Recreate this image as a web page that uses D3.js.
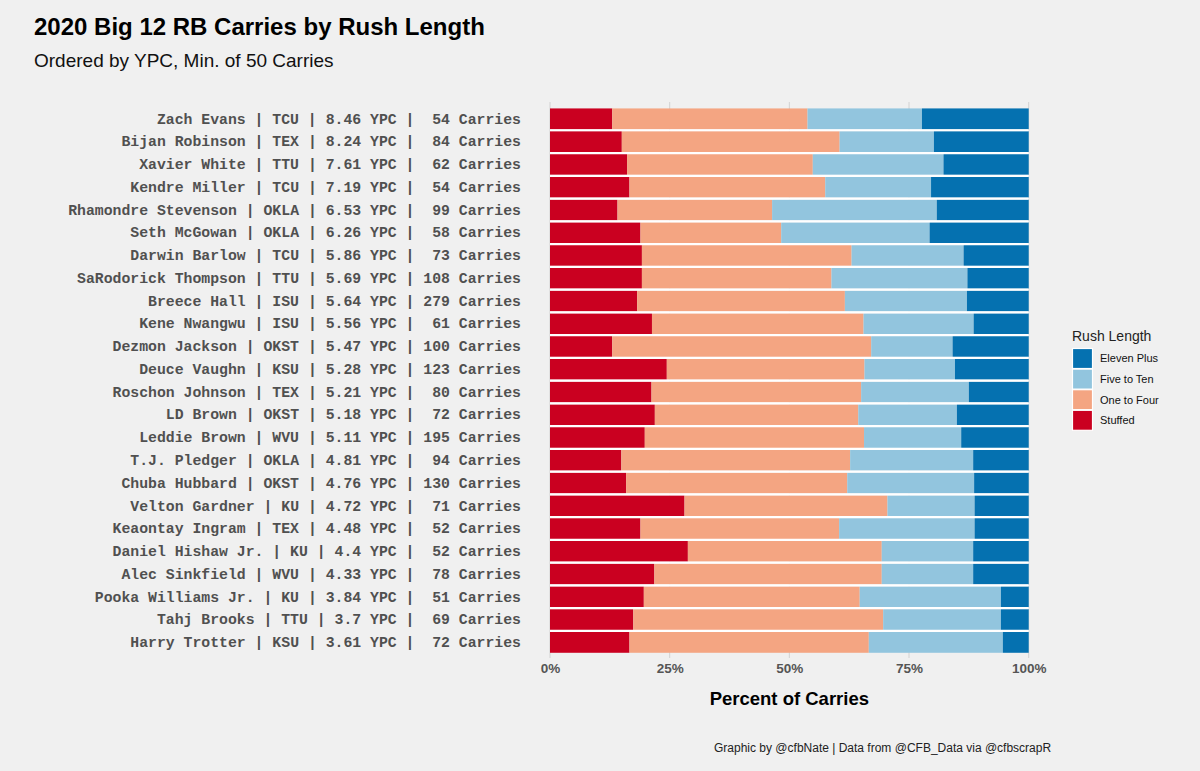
<!DOCTYPE html>
<html>
<head>
<meta charset="utf-8">
<script src="https://cdn.jsdelivr.net/npm/d3@7"></script>
<style>
  html, body { margin: 0; padding: 0; background: #f0f0f0; }
  svg { display: block; font-family: "Liberation Sans", Arial, sans-serif; }
  .ylab { font-family: "Liberation Mono", "Courier New", monospace; white-space: pre; }
</style>
</head>
<body>
<div id="chart"></div>
<script>
// Players, ordered by YPC
const players = ["Zach Evans", "Bijan Robinson", "Xavier White", "Kendre Miller", "Rhamondre Stevenson",
  "Seth McGowan", "Darwin Barlow", "SaRodorick Thompson", "Breece Hall", "Kene Nwangwu",
  "Dezmon Jackson", "Deuce Vaughn", "Roschon Johnson", "LD Brown", "Leddie Brown",
  "T.J. Pledger", "Chuba Hubbard", "Velton Gardner", "Keaontay Ingram", "Daniel Hishaw Jr.",
  "Alec Sinkfield", "Pooka Williams Jr.", "Tahj Brooks", "Harry Trotter"];
const teams = ["TCU", "TEX", "TTU", "TCU", "OKLA", "OKLA", "TCU", "TTU", "ISU", "ISU",
  "OKST", "KSU", "TEX", "OKST", "WVU", "OKLA", "OKST", "KU", "TEX", "KU",
  "WVU", "KU", "TTU", "KSU"];
const ypc = ["8.46", "8.24", "7.61", "7.19", "6.53", "6.26", "5.86", "5.69", "5.64", "5.56",
  "5.47", "5.28", "5.21", "5.18", "5.11", "4.81", "4.76", "4.72", "4.48", "4.4",
  "4.33", "3.84", "3.7", "3.61"];
const carries = [54, 84, 62, 54, 99, 58, 73, 108, 279, 61, 100, 123, 80, 72, 195, 94, 130, 71, 52, 52, 78, 51, 69, 72];

// Percent of carries per rush length bucket
const stuffed     = [13.0, 15.0, 16.1, 16.6, 14.1, 18.9, 19.2, 19.2, 18.2, 21.3, 13.0, 24.4, 21.2, 21.9, 19.8, 14.9, 15.9, 28.1, 18.9, 28.8, 21.8, 19.6, 17.4, 16.6];
const oneToFour   = [40.8, 45.5, 38.8, 40.9, 32.3, 29.4, 43.8, 39.6, 43.4, 44.2, 54.1, 41.3, 43.8, 42.5, 45.8, 47.8, 46.2, 42.4, 41.5, 40.5, 47.5, 45.1, 52.2, 50.0];
const fiveToTen   = [23.9, 19.7, 27.3, 22.1, 34.4, 31.0, 23.4, 28.4, 25.5, 23.0, 17.0, 18.9, 22.5, 20.6, 20.3, 25.7, 26.5, 18.2, 28.3, 19.1, 19.1, 29.5, 24.6, 28.0];
const elevenPlus  = [22.3, 19.8, 17.8, 20.4, 19.2, 20.7, 13.6, 12.8, 12.9, 11.5, 15.9, 15.4, 12.5, 15.0, 14.1, 11.6, 11.4, 11.3, 11.3, 11.6, 11.6, 5.8, 5.8, 5.4];

const keys = ["Stuffed", "One to Four", "Five to Ten", "Eleven Plus"];
const colors = ["#ca0020", "#f4a582", "#92c5de", "#0571b0"];
const ticks = [0, 0.25, 0.5, 0.75, 1];

const rows = players.map((p, i) => {
  const total = stuffed[i] + oneToFour[i] + fiveToTen[i] + elevenPlus[i];
  return {
    label: `${p} | ${teams[i]} | ${ypc[i]} YPC | ${String(carries[i]).padStart(3)} Carries`,
    "Stuffed": stuffed[i] / total,
    "One to Four": oneToFour[i] / total,
    "Five to Ten": fiveToTen[i] / total,
    "Eleven Plus": elevenPlus[i] / total
  };
});

const W = 1200, H = 771;
const svg = d3.select("#chart").append("svg").attr("width", W).attr("height", H);
svg.append("rect").attr("width", W).attr("height", H).attr("fill", "#f0f0f0");

const x = d3.scaleLinear().domain([0, 1]).range([550, 1028.7]);
const y = d3.scaleBand().domain(rows.map(d => d.label)).range([106.6, 654.6]).padding(0.08);
const color = d3.scaleOrdinal().domain(keys).range(colors);

// Titles
svg.append("text").attr("x", 34).attr("y", 35).attr("font-size", 24).attr("font-weight", "bold")
  .attr("fill", "#000").text("2020 Big 12 RB Carries by Rush Length");
svg.append("text").attr("x", 34).attr("y", 67).attr("font-size", 19).attr("fill", "#111")
  .text("Ordered by YPC, Min. of 50 Carries");

// Grid lines
svg.append("g").selectAll("line").data(ticks).join("line")
  .attr("x1", d => x(d)).attr("x2", d => x(d))
  .attr("y1", 102).attr("y2", 658)
  .attr("stroke", "#d2d2d2").attr("stroke-width", 1);

// Stacked bars
const series = d3.stack().keys(keys)(rows);
svg.append("g").selectAll("g").data(series).join("g")
  .attr("fill", d => color(d.key))
  .selectAll("rect").data(d => d).join("rect")
  .attr("x", d => x(d[0]))
  .attr("width", d => x(d[1]) - x(d[0]))
  .attr("y", d => y(d.data.label))
  .attr("height", y.bandwidth());

// white separators between rows
svg.append("g").selectAll("line").data(rows.slice(1)).join("line")
  .attr("x1", x(0)).attr("x2", x(1))
  .attr("y1", d => y(d.label) - y.step() * y.paddingInner() / 2)
  .attr("y2", d => y(d.label) - y.step() * y.paddingInner() / 2)
  .attr("stroke", "#ffffff").attr("stroke-width", 2.2);

// Y axis labels
const yAxis = svg.append("g").attr("transform", "translate(521,0)")
  .call(d3.axisLeft(y).tickSize(0).tickPadding(0));
yAxis.select(".domain").remove();
yAxis.selectAll("text")
  .attr("class", "ylab")
  .attr("font-size", 14.8).attr("font-weight", "bold").attr("fill", "#505050");

// X axis
const xAxis = svg.append("g").attr("transform", "translate(0,660)")
  .call(d3.axisBottom(x).tickValues(ticks).tickFormat(d3.format(".0%")).tickSize(0).tickPadding(0));
xAxis.select(".domain").remove();
xAxis.selectAll("text")
  .attr("dy", "0.71em").attr("y", 3)
  .attr("font-family", "Liberation Sans, Arial, sans-serif")
  .attr("font-size", 13.5).attr("font-weight", "bold").attr("fill", "#555555");

svg.append("text").attr("x", x(0.5)).attr("y", 705).attr("text-anchor", "middle")
  .attr("font-size", 18.5).attr("font-weight", "bold").attr("fill", "#000")
  .text("Percent of Carries");

svg.append("text").attr("x", 714).attr("y", 752).attr("font-size", 12).attr("fill", "#222")
  .text("Graphic by @cfbNate | Data from @CFB_Data via @cfbscrapR");

// Legend
const legend = svg.append("g").attr("transform", "translate(1072,0)");
legend.append("text").attr("x", 0).attr("y", 341).attr("font-size", 14).attr("fill", "#222")
  .text("Rush Length");
const legendKeys = keys.slice().reverse();
const li = legend.selectAll("g.item").data(legendKeys).join("g").attr("class", "item")
  .attr("transform", (d, i) => `translate(0,${348.5 + i * 20.6})`);
li.append("rect").attr("x", 0.5).attr("width", 20).attr("height", 20)
  .attr("fill", d => color(d)).attr("stroke", "#ffffff").attr("stroke-width", 1.2);
li.append("text").attr("x", 28).attr("y", 10).attr("dy", "0.35em")
  .attr("font-size", 11).attr("fill", "#111").text(d => d);
</script>
</body>
</html>
